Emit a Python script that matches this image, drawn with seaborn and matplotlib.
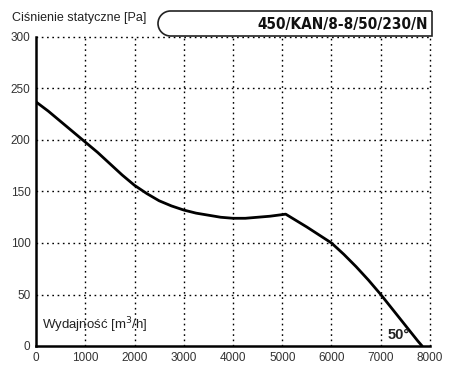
import matplotlib
matplotlib.use("Agg")
import matplotlib.pyplot as plt
import seaborn as sns
import pandas as pd
from matplotlib.path import Path
from matplotlib.patches import PathPatch

flow = [0, 250, 500, 750, 1000, 1250, 1500, 1750, 2000, 2250, 2500, 2750, 3000,
        3250, 3500, 3750, 4000, 4250, 4500, 4750, 5070, 5500, 6000,
        6250, 6500, 6750, 7000, 7250, 7500, 7750, 7840]
pressure = [237, 228, 218, 208, 198, 188, 177, 166, 156, 148, 141, 136, 132,
            129, 127, 125, 124, 124, 125, 126, 128, 115.5, 100,
            89, 77, 64, 50, 35, 20, 5, 0]
x_ticks = [0, 1000, 2000, 3000, 4000, 5000, 6000, 7000, 8000]
y_ticks = [0, 50, 100, 150, 200, 250, 300]
model_name = "450/KAN/8-8/50/230/N"
angle_label = "50°"

df = pd.DataFrame({"flow": flow, "pressure": pressure})

sns.set_style("white")
plt.rcParams["font.family"] = ["Liberation Sans", "DejaVu Sans"]

W, H = 450, 372
fig = plt.figure(figsize=(W / 100, H / 100), dpi=100)
ax = fig.add_axes([36 / W, 1 - 346 / H, (430 - 36) / W, (346 - 37) / H])

sns.lineplot(data=df, x="flow", y="pressure", ax=ax, color="black", linewidth=2.0)

ax.set_xlim(0, 8000)
ax.set_ylim(0, 300)
ax.set_xticks(x_ticks)
ax.set_yticks(y_ticks)
ax.set_xlabel("")
ax.set_ylabel("")
ax.tick_params(length=0, labelsize=8.5, labelcolor="#333333", pad=4)

# siatka kropkowana
for xv in x_ticks[1:]:
    ax.plot([xv, xv], [0, 300], color="black", linestyle=(0, (1.2, 2.6)),
            linewidth=1.0, zorder=1, clip_on=False)
for yv in y_ticks[1:]:
    ax.plot([0, 8000], [yv, yv], color="black", linestyle=(0, (1.2, 2.6)),
            linewidth=1.0, zorder=1, clip_on=False)

for s in ["top", "right"]:
    ax.spines[s].set_visible(False)
for s in ["left", "bottom"]:
    ax.spines[s].set_color("black")
    ax.spines[s].set_linewidth(1.8)

ax.text(0.015, 0.035, "Wydajność [m$^3$/h]", transform=ax.transAxes,
        fontsize=9.5, color="#222222", ha="left", va="bottom")
ax.text(7590, 11, angle_label, fontsize=10.5, fontweight="bold", ha="right",
        va="center", color="#222222")

# ramka z nazwa modelu
x0, x1, y0, y1 = 158, 432, 11, 36
r = (y1 - y0) / 2
def fp(px, py):
    return (px / W, 1 - py / H)
k = 0.5523
verts = [fp(x1, y0), fp(x0 + r, y0),
         fp(x0 + r - k * r, y0), fp(x0, y0 + r - k * r), fp(x0, y0 + r),
         fp(x0, y0 + r + k * r), fp(x0 + r - k * r, y1), fp(x0 + r, y1),
         fp(x1, y1), fp(x1, y0)]
codes = [Path.MOVETO, Path.LINETO,
         Path.CURVE4, Path.CURVE4, Path.CURVE4,
         Path.CURVE4, Path.CURVE4, Path.CURVE4,
         Path.LINETO, Path.LINETO]
box = PathPatch(Path(verts, codes), transform=fig.transFigure, facecolor="white",
                edgecolor="#222222", linewidth=1.2, zorder=5)
fig.patches.append(box)

fig.text(428 / W, 1 - 24 / H, model_name, fontsize=11, fontweight="bold",
         fontstretch="condensed", ha="right", va="center", color="#111111",
         zorder=6, family=["DejaVu Sans"])
fig.text(12 / W, 1 - 18 / H, "Ciśnienie statyczne [Pa]", fontsize=9,
         ha="left", va="center", color="#222222")

fig.savefig("out.png", dpi=100)
